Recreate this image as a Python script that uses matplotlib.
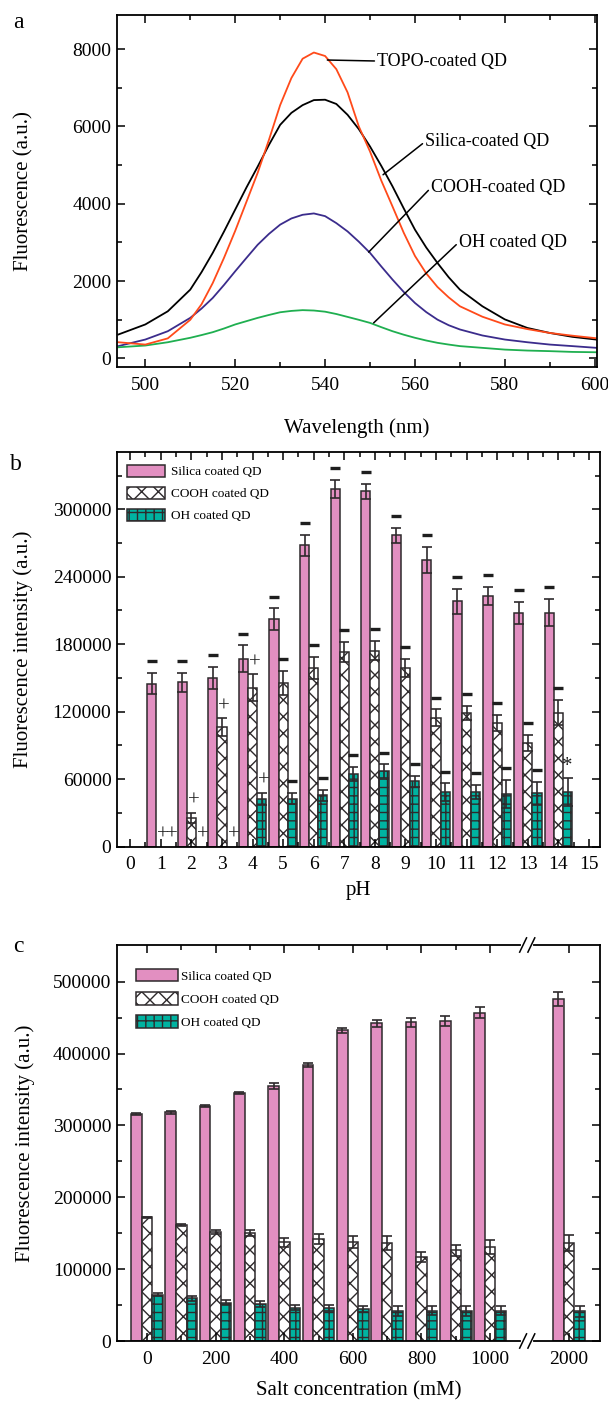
import numpy as np
import matplotlib
matplotlib.use("Agg")
import matplotlib.pyplot as plt
from matplotlib.transforms import offset_copy

plt.rcParams['font.family'] = ['Liberation Serif', 'DejaVu Serif']
plt.rcParams['hatch.linewidth'] = 1.0
plt.rcParams['axes.linewidth'] = 1.3

# ---------------- data: panel a (spectra) ----------------
wavelength = [494, 500, 505, 510, 512.5, 515, 517.5, 520, 522.5, 525, 527.5,
              530, 532.5, 535, 537.5, 540, 542.5, 545, 547.5, 550, 552.5, 555,
              557.5, 560, 562.5, 565, 567.5, 570, 575, 580, 585, 590, 595, 601]
topo_qd = [420, 360, 520, 1000, 1400, 1950, 2600, 3300, 4050, 4800, 5650,
           6550, 7250, 7750, 7910, 7820, 7480, 6880, 6000, 5350, 4600, 3930,
           3250, 2650, 2200, 1850, 1580, 1350, 1080, 880, 760, 660, 590, 515]
silica_qd = [620, 880, 1220, 1780, 2230, 2730, 3280, 3850, 4420, 4960, 5520,
             6040, 6350, 6550, 6680, 6690, 6580, 6300, 5930, 5480, 4980, 4450,
             3880, 3330, 2870, 2470, 2100, 1780, 1350, 1010, 790, 660, 560, 480]
cooh_qd = [320, 490, 705, 1050, 1290, 1565, 1900, 2255, 2600, 2940, 3220,
           3460, 3620, 3715, 3750, 3680, 3500, 3285, 3020, 2730, 2380, 2040,
           1720, 1435, 1200, 1005, 860, 750, 595, 490, 420, 360, 320, 270]
oh_qd = [290, 335, 420, 535, 605, 680, 775, 880, 965, 1050, 1125,
         1195, 1230, 1250, 1240, 1210, 1150, 1075, 1000, 920, 810, 705,
         615, 535, 465, 405, 360, 320, 275, 230, 205, 190, 170, 160]

# ---------------- data: panel b (pH) ----------------
ph = list(range(1, 15))
ph_silica = [145000, 146000, 150000, 167000, 202000, 268000, 318000, 316000,
             277000, 255000, 218000, 223000, 208000, 208000]
ph_silica_err = [9500, 8600, 9800, 11900, 9800, 9500, 8000, 6800,
                 6800, 11300, 11300, 8300, 9800, 12200]
ph_cooh = [0, 25500, 105900, 141200, 145600, 159000, 173000, 174100,
           159000, 114500, 119000, 110000, 92200, 119000]
ph_cooh_err = [0, 4700, 8000, 11900, 10400, 9800, 9000, 8600,
               8000, 7400, 6200, 7100, 7100, 11300]
ph_oh = [0, 0, 0, 42100, 42700, 45400, 64600, 66800,
         58100, 48100, 48600, 46600, 47200, 48100]
ph_oh_err = [0, 0, 0, 5600, 5300, 5300, 6200, 6200,
             5000, 8000, 5900, 12500, 10100, 12500]
ph_silica_mark = ['–'] * 14
ph_cooh_mark = ['+', '+', '+', '+'] + ['–'] * 10
ph_oh_mark = ['+', '+', '+', '+'] + ['–'] * 9 + ['*']

# ---------------- data: panel c (salt) ----------------
salt = [0, 100, 200, 300, 400, 500, 600, 700, 800, 900, 1000, 2000]
salt_silica = [316000, 318000, 327000, 345600, 354800, 383700, 432500, 441900,
               443300, 445100, 456700, 475800]
salt_silica_err = [1500, 2000, 1500, 1500, 3700, 2800, 3700, 5100,
                   6500, 7000, 7900, 10200]
salt_cooh = [172100, 161900, 151600, 150700, 137200, 141900, 137200, 136300,
             116800, 126000, 131200, 136300]
salt_cooh_err = [1000, 1500, 3300, 4200, 6000, 7000, 8400, 9300,
                 6500, 7900, 9800, 10700]
salt_oh = [64600, 59500, 53500, 51600, 46500, 46000, 45100, 42300,
           42300, 42300, 42300, 41400]
salt_oh_err = [2300, 3700, 3700, 4200, 3700, 4200, 4200, 7000,
               6000, 7000, 6000, 7900]
salt_labels = ['0', '200', '400', '600', '800', '1000', '2000']

PINK = '#E28FC1'
TEAL = '#00B3A1'
EDGE = '#2E2A2C'

W, H = 608, 1402
fig = plt.figure(figsize=(W / 100, H / 100), dpi=100)


def px_rect(l, t, r, b):
    return [l / W, 1 - b / H, (r - l) / W, (b - t) / H]


def style_axis(ax):
    ax.tick_params(which='both', direction='in', top=True, right=True,
                   labelsize=14, width=1.1)
    ax.tick_params(which='major', length=6)
    ax.tick_params(which='minor', length=3.5)
    ax.tick_params(axis='x', pad=7)
    ax.tick_params(axis='y', pad=4)


# ================= panel a =================
ax1 = fig.add_axes(px_rect(117, 15, 597, 367))
ax1.plot(wavelength, silica_qd, color='black', lw=1.3)
ax1.plot(wavelength, cooh_qd, color='#3B2C8C', lw=1.3)
ax1.plot(wavelength, oh_qd, color='#1FAF50', lw=1.3)
ax1.plot(wavelength, topo_qd, color='#FF4A1A', lw=1.3)
ax1.set_xlim(493.7, 600.5)
ax1.set_ylim(-220, 8880)
ax1.set_xticks(range(500, 601, 20))
ax1.set_xticks(range(510, 600, 20), minor=True)
ax1.set_yticks(range(0, 8001, 2000))
ax1.set_yticks(range(1000, 8001, 2000), minor=True)
style_axis(ax1)
ax1.set_xlabel('Wavelength (nm)', fontsize=15)
ax1.set_ylabel('Fluorescence (a.u.)', fontsize=15)
ax1.xaxis.set_label_coords(0.5, -0.145)
ax1.yaxis.set_label_coords(-0.174, 0.5)

notes = [('TOPO-coated QD', (540.5, 7716), (551.6, 7690)),
         ('Silica-coated QD', (552.9, 4750), (562.3, 5610)),
         ('COOH-coated QD', (549.7, 2750), (563.6, 4420)),
         ('OH coated QD', (550.8, 920), (569.8, 3010))]
for txt, xy, xyt in notes:
    ax1.annotate(txt, xy=xy, xytext=xyt, fontsize=13, va='center', ha='left',
                 arrowprops=dict(arrowstyle='-', color='black', lw=1.1,
                                 shrinkA=0, shrinkB=0,
                                 relpos=(0, 0.5)))

# ================= panel b =================
ax2 = fig.add_axes(px_rect(117, 452, 600, 846.5))
x = np.array(ph, dtype=float)
bw = 0.3
err_kw = dict(ecolor=EDGE, elinewidth=1.2, capsize=3.5, capthick=1.2)
b1 = ax2.bar(x - bw, ph_silica, bw, yerr=ph_silica_err, color=PINK,
             edgecolor=EDGE, lw=1.1, error_kw=err_kw, label='Silica coated QD')
cooh_mask = np.array(ph_cooh) > 0
b2 = ax2.bar(x[cooh_mask], np.array(ph_cooh)[cooh_mask], bw,
             yerr=np.array(ph_cooh_err)[cooh_mask], color='white',
             edgecolor=EDGE, lw=1.1, hatch='xx', error_kw=err_kw,
             label='COOH coated QD')
oh_mask = np.array(ph_oh) > 0
b3 = ax2.bar(x[oh_mask] + bw, np.array(ph_oh)[oh_mask], bw,
             yerr=np.array(ph_oh_err)[oh_mask], color=TEAL,
             edgecolor=EDGE, lw=1.1, hatch='++', error_kw=err_kw,
             label='OH coated QD')

# significance marks above the bars
mark_tr = offset_copy(ax2.transData, fig=fig, x=0, y=8.5, units='points')
for off, vals, errs, marks in [(-bw, ph_silica, ph_silica_err, ph_silica_mark),
                               (0, ph_cooh, ph_cooh_err, ph_cooh_mark),
                               (bw, ph_oh, ph_oh_err, ph_oh_mark)]:
    for xi, v, e, m in zip(ph, vals, errs, marks):
        if m == '–':
            ax2.plot([xi + off], [v + e], marker='_', ms=7, mew=2.4,
                     color='#1E1E1E', transform=mark_tr, clip_on=False)
        else:
            dx = 0.08 if m == '+' else 0
            ax2.text(xi + off + dx, v + e, m, transform=mark_tr, ha='center',
                     va='center', fontsize=15, color='#1E1E1E')

ax2.set_xlim(-0.43, 15.36)
ax2.set_ylim(0, 351000)
ax2.set_xticks(range(0, 16))
ax2.set_xticks(np.arange(0.5, 15, 1), minor=True)
ax2.set_yticks(range(0, 300001, 60000))
ax2.set_yticks(range(30000, 330001, 60000), minor=True)
style_axis(ax2)
ax2.set_xlabel('pH', fontsize=15)
ax2.set_ylabel('Fluorescence intensity (a.u.)', fontsize=15)
ax2.xaxis.set_label_coords(0.5, -0.087)
ax2.yaxis.set_label_coords(-0.173, 0.5)
ax2.legend(handles=[b1, b2, b3], loc='upper left', frameon=False,
           bbox_to_anchor=(0.021, 0.968), borderaxespad=0, borderpad=0,
           fontsize=9.5, handlelength=2.9, handleheight=1.1,
           labelspacing=0.62, handletextpad=0.4)

# ================= panel c =================
ax3 = fig.add_axes(px_rect(117, 945, 600, 1341))
break_gap = 2.3


def salt_pos(c):
    # broken axis: linear up to 1000 mM, then a jump to 2000 mM
    return c / 100 if c <= 1000 else 10 + break_gap


xs = np.array([salt_pos(c) for c in salt])
cw = 0.31
s1 = ax3.bar(xs - cw, salt_silica, cw, yerr=salt_silica_err, color=PINK,
             edgecolor=EDGE, lw=1.1, error_kw=err_kw, label='Silica coated QD')
s2 = ax3.bar(xs, salt_cooh, cw, yerr=salt_cooh_err, color='white',
             edgecolor=EDGE, lw=1.1, hatch='xx', error_kw=err_kw,
             label='COOH coated QD')
s3 = ax3.bar(xs + cw, salt_oh, cw, yerr=salt_oh_err, color=TEAL,
             edgecolor=EDGE, lw=1.1, hatch='++', error_kw=err_kw,
             label='OH coated QD')
ax3.set_xlim(-0.87, 13.2)
ax3.set_ylim(0, 551000)
major_c = [0, 200, 400, 600, 800, 1000, 2000]
ax3.set_xticks([salt_pos(c) for c in major_c])
ax3.set_xticklabels(salt_labels)
ax3.set_xticks([salt_pos(c) for c in [100, 300, 500, 700, 900]], minor=True)
ax3.set_yticks(range(0, 500001, 100000))
ax3.set_yticks(range(50000, 500001, 100000), minor=True)
style_axis(ax3)
ax3.set_xlabel('Salt concentration (mM)', fontsize=15)
ax3.set_ylabel('Fluorescence intensity (a.u.)', fontsize=15)
ax3.xaxis.set_label_coords(0.5, -0.101)
ax3.yaxis.set_label_coords(-0.170, 0.5)
ax3.legend(handles=[s1, s2, s3], loc='upper left', frameon=False,
           bbox_to_anchor=(0.039, 0.94), borderaxespad=0, borderpad=0,
           fontsize=9.5, handlelength=3.2, handleheight=1.1,
           labelspacing=0.72, handletextpad=0.25)

# axis break marks
brk = 11.08
trans = ax3.get_xaxis_transform()
for yb in (0, 1):
    ax3.plot([brk - 0.12, brk + 0.12], [yb, yb], transform=trans, color='white',
             lw=3, clip_on=False, zorder=5)
    for dx in (-0.12, 0.12):
        ax3.plot([brk + dx - 0.1, brk + dx + 0.1], [yb - 0.018, yb + 0.018],
                 transform=trans, color='black', lw=1.1, clip_on=False,
                 zorder=6)

# panel letters
fig.text(18 / W, 1 - 23 / H, 'a', fontsize=17, ha='center', va='center')
fig.text(16 / W, 1 - 465 / H, 'b', fontsize=17, ha='center', va='center')
fig.text(18 / W, 1 - 947 / H, 'c', fontsize=17, ha='center', va='center')

fig.savefig('out.png', dpi=100)
